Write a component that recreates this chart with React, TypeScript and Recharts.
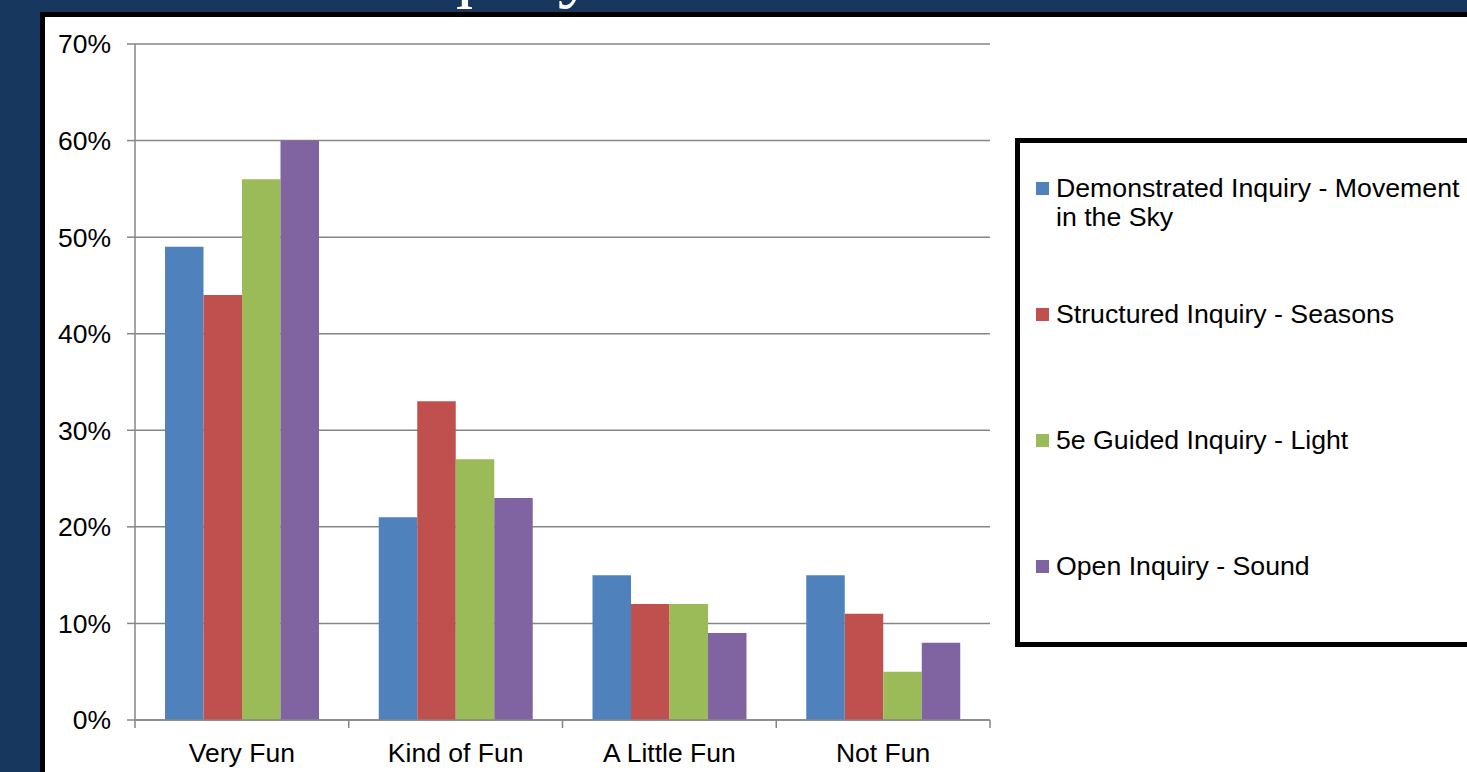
import React from "react";
import { BarChart, Bar, XAxis, YAxis, CartesianGrid } from "recharts";

const categories = ["Very Fun", "Kind of Fun", "A Little Fun", "Not Fun"];
const demonstrated = [49, 21, 15, 15];
const structured = [44, 33, 12, 11];
const guided = [56, 27, 12, 5];
const open = [60, 23, 9, 8];
const yTicks = [0, 10, 20, 30, 40, 50, 60, 70];

const seriesNames = [
  "Demonstrated Inquiry - Movement in the Sky",
  "Structured Inquiry - Seasons",
  "5e Guided Inquiry - Light",
  "Open Inquiry - Sound",
];
const seriesColors = ["#4F81BD", "#C0504D", "#9BBB59", "#8064A2"];

const data = categories.map((label, i) => ({
  label,
  demonstrated: demonstrated[i],
  structured: structured[i],
  guided: guided[i],
  open: open[i],
}));
const seriesKeys = ["demonstrated", "structured", "guided", "open"];

const FONT = '"Liberation Sans", Arial, sans-serif';
const GRID = "#868686";
const CHART_W = 1422;
const CHART_H = 755;
const MARGIN = { top: 27, right: 477, bottom: 0, left: 0 };
const Y_AXIS_W = 90;
const PLOT_W = CHART_W - MARGIN.left - MARGIN.right - Y_AXIS_W;
const BAND = PLOT_W / categories.length;

function CategoryTick(props: any) {
  const { x, y, payload } = props;
  const isLast = payload.value === categories[categories.length - 1];
  return (
    <g>
      <line x1={x - BAND / 2} x2={x - BAND / 2} y1={y} y2={y + 8} stroke={GRID} strokeWidth={1.5} />
      {isLast && (
        <line x1={x + BAND / 2} x2={x + BAND / 2} y1={y} y2={y + 8} stroke={GRID} strokeWidth={1.5} />
      )}
      <text x={x} y={y + 42} textAnchor="middle" fontSize={26.5} fontFamily={FONT} fill="#000">
        {payload.value}
      </text>
    </g>
  );
}

export default function App() {
  return (
    <div
      style={{
        position: "fixed",
        left: 0,
        top: 0,
        width: 1467,
        height: 772,
        background: "#17375E",
        overflow: "hidden",
      }}
    >
      {/* title sits above the frame, only its descenders show */}
      <svg width={1467} height={20} style={{ position: "absolute", left: 0, top: 0 }}>
        <text x={372} y={-7} fontSize={76} fontFamily='"Liberation Serif", "Times New Roman", serif' fill="#fff">
          Inquiry
        </text>
      </svg>
      <div
        style={{
          position: "absolute",
          left: 40,
          top: 12,
          width: 1500,
          height: 800,
          background: "#fff",
          borderLeft: "5px solid #000",
          borderTop: "5px solid #000",
        }}
      />
      <div style={{ position: "absolute", left: 45, top: 17 }}>
        <BarChart width={CHART_W} height={CHART_H} data={data} margin={MARGIN} barSize={38.5} barGap={0}>
          <CartesianGrid vertical={false} stroke={GRID} strokeWidth={1.5} />
          <XAxis
            dataKey="label"
            height={52}
            tickSize={0}
            tickMargin={0}
            tickLine={false}
            axisLine={{ stroke: GRID, strokeWidth: 1.5 }}
            tick={<CategoryTick />}
            interval={0}
          />
          <YAxis
            width={Y_AXIS_W}
            domain={[0, 70]}
            ticks={yTicks}
            tickFormatter={(v) => `${v}%`}
            tickSize={8}
            tickMargin={16}
            axisLine={{ stroke: GRID, strokeWidth: 1.5 }}
            tickLine={{ stroke: GRID, strokeWidth: 1.5 }}
            tick={{ fontSize: 26.5, fontFamily: FONT, fill: "#000" }}
          />
          {seriesKeys.map((k, i) => (
            <Bar key={k} dataKey={k} name={seriesNames[i]} fill={seriesColors[i]} isAnimationActive={false} />
          ))}
        </BarChart>
      </div>
      <div
        style={{
          position: "absolute",
          left: 1015,
          top: 138,
          width: 500,
          height: 499,
          background: "#fff",
          border: "5px solid #000",
          fontFamily: FONT,
          fontSize: 26.7,
          color: "#000",
        }}
      >
        {seriesNames.map((name, i) => (
          <div
            key={name}
            style={{
              position: "absolute",
              left: 16,
              top: 30.5 + i * 126,
              display: "flex",
              alignItems: "flex-start",
              lineHeight: "29px",
            }}
          >
            <div
              style={{
                width: 13,
                height: 13,
                marginTop: 8,
                marginRight: 7,
                background: seriesColors[i],
                flex: "none",
              }}
            />
            <div style={{ width: 412 }}>{name}</div>
          </div>
        ))}
      </div>
    </div>
  );
}
